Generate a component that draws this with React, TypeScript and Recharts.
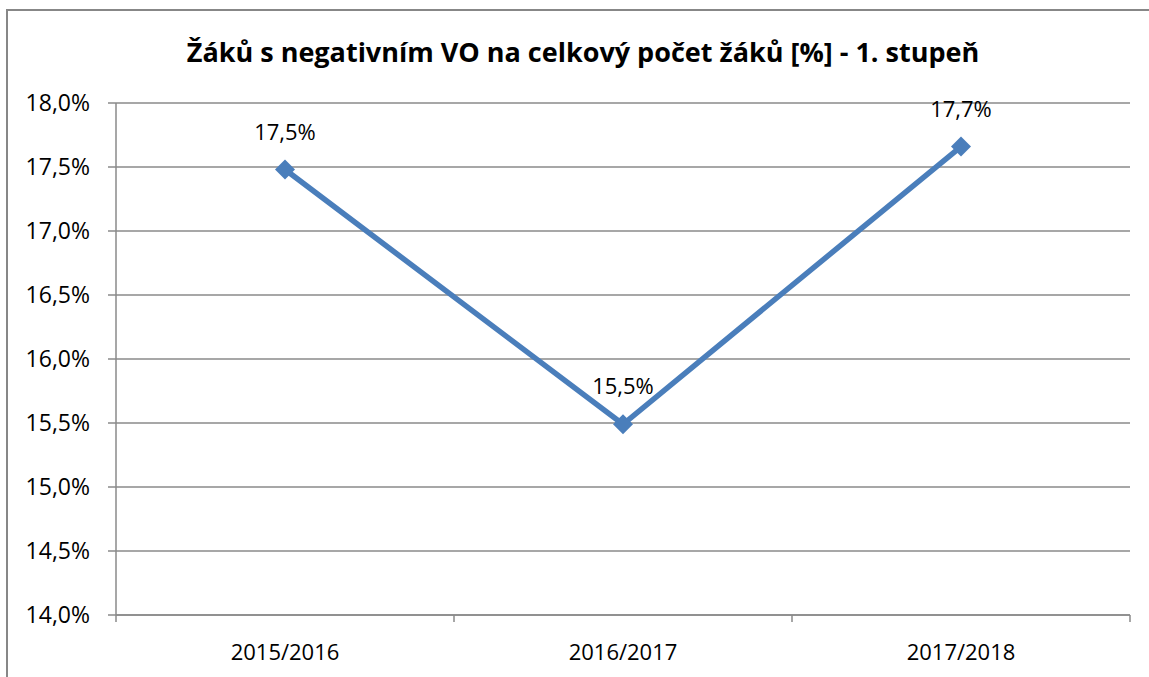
import { LineChart, Line, XAxis, YAxis, CartesianGrid, LabelList } from "recharts";

const years = ["2015/2016", "2016/2017", "2017/2018"];
const shares = [17.48, 15.49, 17.66];
const shareLabels = ["17,5%", "15,5%", "17,7%"];
const yTicks = [14, 14.5, 15, 15.5, 16, 16.5, 17, 17.5, 18];

const data = years.map((year, i) => ({ year, share: shares[i], label: shareLabels[i] }));

const FONT = "'Open Sans', 'Liberation Sans', sans-serif";
const GRID = "#8a8a8a";
const BLUE = "#4a7ebb";

const pct = (v: number) => v.toFixed(1).replace(".", ",") + "%";

function Diamond(props: any) {
  const { cx, cy } = props;
  if (cx == null || cy == null) return null;
  const r = 10;
  return (
    <polygon
      points={`${cx},${cy - r} ${cx + r},${cy} ${cx},${cy + r} ${cx - r},${cy}`}
      fill={BLUE}
    />
  );
}

function YearTick(props: any) {
  const { x, y, payload, index } = props;
  const half = payload?.offset || 169;
  return (
    <g>
      <line x1={x - half} y1={y - 8} x2={x - half} y2={y - 1} stroke={GRID} strokeWidth={1.5} />
      {index === years.length - 1 && (
        <line x1={x + half} y1={y - 8} x2={x + half} y2={y - 1} stroke={GRID} strokeWidth={1.5} />
      )}
      <text x={x} y={y + 28} textAnchor="middle" dominantBaseline="central" fontSize={22} fill="#000" fontFamily={FONT}>
        {payload.value}
      </text>
    </g>
  );
}

export default function App() {
  return (
    <div style={{ position: "relative", width: 1149, height: 677, background: "#fff", overflow: "hidden" }}>
      <style>{"body{margin:0}"}</style>
      <div
        style={{
          position: "absolute",
          left: 6,
          top: 9,
          width: 1200,
          height: 700,
          border: "2px solid #878787",
          boxSizing: "border-box",
        }}
      />
      <div
        style={{
          position: "absolute",
          top: 33,
          left: 0,
          width: 1166,
          textAlign: "center",
          fontFamily: FONT,
          fontWeight: 700,
          fontSize: 27,
          color: "#000",
        }}
      >
        Žáků s negativním VO na celkový počet žáků [%] - 1. stupeň
      </div>
      <div style={{ position: "absolute", left: 0, top: 0 }}>
        <LineChart width={1149} height={677} data={data} margin={{ top: 103, right: 19, bottom: 22, left: 0 }}>
          <CartesianGrid vertical={false} stroke={GRID} strokeWidth={1.3} />
          <XAxis
            dataKey="year"
            scale="band"
            height={40}
            axisLine={{ stroke: GRID, strokeWidth: 1.5 }}
            tickLine={false}
            tick={<YearTick />}
            interval={0}
          />
          <YAxis
            width={116}
            domain={[14, 18]}
            ticks={yTicks}
            tickFormatter={pct}
            axisLine={{ stroke: GRID, strokeWidth: 1.5 }}
            tickLine={{ stroke: GRID, strokeWidth: 1.5 }}
            tickSize={8}
            tickMargin={18}
            tick={{ fill: "#000", fontSize: 23, fontFamily: FONT }}
          />
          <Line
            dataKey="share"
            type="linear"
            stroke={BLUE}
            strokeWidth={5.5}
            dot={<Diamond />}
            activeDot={false}
            isAnimationActive={false}
          >
            <LabelList dataKey="label" position="top" offset={30} fill="#000" fontSize={22} fontFamily={FONT} />
          </Line>
        </LineChart>
      </div>
    </div>
  );
}
